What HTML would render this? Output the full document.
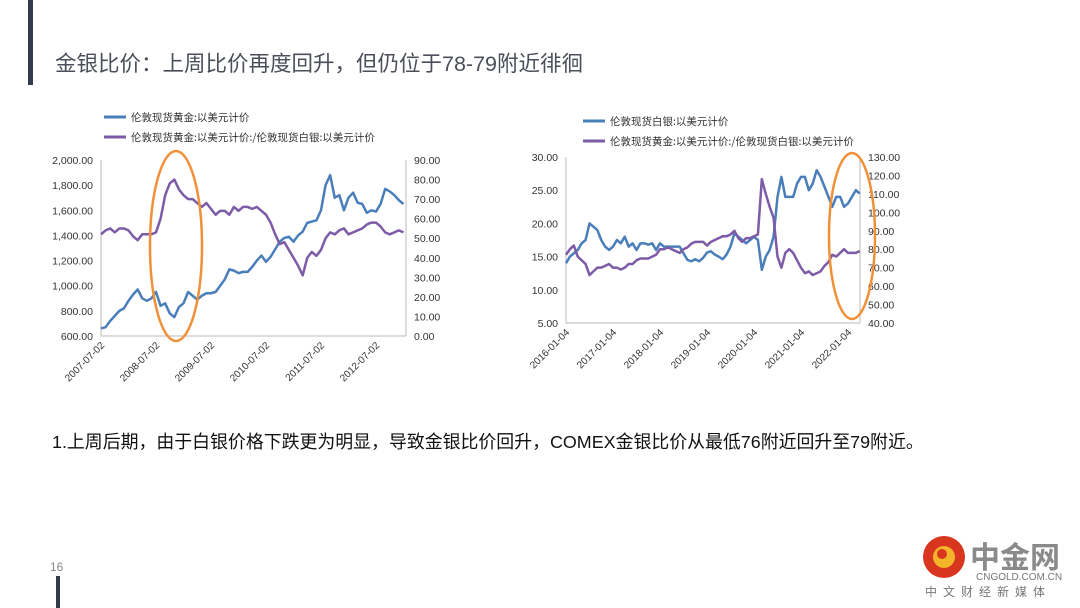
<!DOCTYPE html>
<html><head><meta charset="utf-8">
<style>
body{margin:0;width:1080px;height:608px;background:#fff;overflow:hidden;position:relative;font-family:"Liberation Sans","Noto Sans CJK SC",sans-serif}
.abs{position:absolute}
</style></head><body>
<div class="abs" style="left:28px;top:0;width:5px;height:85px;background:#333a4d"></div>
<div class="abs" style="left:55px;top:47px;font-size:21.5px;color:#4a4f5a;white-space:nowrap">金银比价：上周比价再度回升，但仍位于78-79附近徘徊</div>
<div class="abs" style="left:52px;top:428px;font-size:17.9px;color:#111;white-space:nowrap">1.上周后期，由于白银价格下跌更为明显，导致金银比价回升，COMEX金银比价从最低76附近回升至79附近。</div>
<div class="abs" style="left:50px;top:560px;font-size:12px;color:#888">16</div>
<div class="abs" style="left:56px;top:576px;width:4px;height:32px;background:#333a4d"></div>
<svg class="abs" style="left:0;top:0" width="1080" height="608">
<g id="c1"></g>
<g id="c2"></g>
<g>
<circle cx="944" cy="557" r="21" fill="#d9361f"/>
<circle cx="944" cy="557" r="11" fill="#f5b52a"/>
<circle cx="942" cy="554" r="5" fill="#d9361f"/>
<text x="970" y="568" font-size="30" font-weight="bold" fill="#8a8a8a" font-family="Noto Sans CJK SC,sans-serif">中金网</text>
<text x="976" y="580" font-size="10" fill="#777">CNGOLD.COM.CN</text>
<text x="925" y="596" font-size="12" fill="#777" letter-spacing="6" font-family="Noto Sans CJK SC,sans-serif">中文财经新媒体</text>
</g>
</svg>
<script>
// Chart 1 data (monthly from 2007-07)
const c1Gold=[660,670,720,760,800,820,880,930,970,900,880,900,950,840,860,780,750,830,860,950,920,890,920,940,940,950,1000,1050,1130,1120,1100,1110,1110,1150,1200,1240,1190,1230,1290,1350,1380,1390,1350,1400,1430,1500,1510,1520,1600,1800,1880,1700,1720,1600,1700,1740,1660,1650,1580,1600,1590,1650,1770,1750,1720,1680,1650];
const c1Ratio=[52,54,55,53,55,55,54,51,49,52,52,52,53,60,72,78,80,75,72,70,70,68,66,68,65,62,64,64,62,66,64,66,66,65,66,64,62,58,52,47,48,44,40,36,31,40,43,41,44,50,53,52,54,55,52,53,54,55,57,58,58,56,53,52,53,54,53];
const c1LeftTicks=["600.00","800.00","1,000.00","1,200.00","1,400.00","1,600.00","1,800.00","2,000.00"];
const c1RightTicks=["0.00","10.00","20.00","30.00","40.00","50.00","60.00","70.00","80.00","90.00"];
const c1XLabels=["2007-07-02","2008-07-02","2009-07-02","2010-07-02","2011-07-02","2012-07-02"];
// Chart 2 data (monthly from 2016-01)
const c2Silver=[14,15,15.5,16,17,17.5,20,19.5,19,17.5,16.5,16,16.5,17.5,17,18,16.5,17,16,17,17,16.8,17,16,17,16.5,16.5,16.5,16.5,16.5,15.5,14.5,14.3,14.6,14.3,14.8,15.6,15.8,15.3,15,14.6,15.3,16.5,18.5,18,17.5,17,17.5,18,17.5,13,15,16,18,24,27,24,24,24,26,27,27,25,26,28,27,25.5,24,22.5,24,24,22.5,23,24,25,24.5];
const c2Ratio=[77,80,82,76,74,72,66,68,70,70,71,72,70,70,69,70,72,72,74,75,75,75,76,77,80,80,81,80,79,78,80,81,83,84,84,84,82,84,85,86,87,87,88,90,86,84,86,86,87,88,118,110,103,97,76,70,78,80,78,74,70,67,68,66,67,68,71,73,77,76,78,80,78,78,78,79];
const c2LeftTicks=["5.00","10.00","15.00","20.00","25.00","30.00"];
const c2RightTicks=["40.00","50.00","60.00","70.00","80.00","90.00","100.00","110.00","120.00","130.00"];
const c2XLabels=["2016-01-04","2017-01-04","2018-01-04","2019-01-04","2020-01-04","2021-01-04","2022-01-04"];

const NS="http://www.w3.org/2000/svg";
function mk(p,tag,at){const e=document.createElementNS(NS,tag);for(const k in at)e.setAttribute(k,at[k]);p.appendChild(e);return e;}
function draw(g,cfg){
  const {x0,x1,y0,y1,lmin,lmax,rmin,rmax,left,right,leftTicks,rightTicks,xLabels,monthPx,legend,lx,ly,ell}=cfg;
  const yl=v=>y1-(v-lmin)/(lmax-lmin)*(y1-y0);
  const yr=v=>y1-(v-rmin)/(rmax-rmin)*(y1-y0);
  const xi=i=>x0+i*monthPx;
  const ax=mk(g,'path',{d:`M${x0} ${y0}V${y1}H${x1}M${x1} ${y0}V${y1}`,stroke:'#bbb',fill:'none','stroke-width':1});
  
  
  leftTicks.forEach(t=>{const v=parseFloat(t.replace(/,/g,''));const e=mk(g,'text',{x:x0-8,y:yl(v)+4,'text-anchor':'end','font-size':10.5,fill:'#333'});e.textContent=t;
    
    });
  rightTicks.forEach(t=>{const v=parseFloat(t);const e=mk(g,'text',{x:x1+8,y:yr(v)+4,'font-size':10.5,fill:'#333'});e.textContent=t;
    
    });
  xLabels.forEach((t,i)=>{const x=x0+i*12*monthPx;const e=mk(g,'text',{x:x+4,y:y1+10,'text-anchor':'end','font-size':10,fill:'#333',transform:`rotate(-45 ${x+4} ${y1+10})`});e.textContent=t;
    
    });
  const p1=mk(g,'polyline',{points:left.map((v,i)=>xi(i)+','+yl(v)).join(' '),fill:'none',stroke:'#4a7ebb','stroke-width':2.5,'stroke-linejoin':'round'});
  
  
  const p2=mk(g,'polyline',{points:right.map((v,i)=>xi(i)+','+yr(v)).join(' '),fill:'none',stroke:'#7d5ba6','stroke-width':2.5,'stroke-linejoin':'round'});
  
  
  legend.forEach((t,i)=>{const c=i?'#7d5ba6':'#4a7ebb';const y=ly+i*20;
    const l=mk(g,'line',{x1:lx,x2:lx+22,y1:y,y2:y,stroke:c,'stroke-width':3});
    
    
    const e=mk(g,'text',{x:lx+27,y:y+4,'font-size':10.5,fill:'#333','font-family':'Noto Sans CJK SC,sans-serif'});e.textContent=t;
    
    });
  const el=mk(g,'ellipse',{cx:ell[0],cy:ell[1],rx:ell[2],ry:ell[3],fill:'none',stroke:'#f0913a','stroke-width':2.5});
  
  
}
draw(document.getElementById('c1'),{x0:101,x1:406,y0:160,y1:336,lmin:600,lmax:2000,rmin:0,rmax:90,left:c1Gold,right:c1Ratio,leftTicks:c1LeftTicks,rightTicks:c1RightTicks,xLabels:c1XLabels,monthPx:55/12,
  legend:["伦敦现货黄金:以美元计价","伦敦现货黄金:以美元计价:/伦敦现货白银:以美元计价"],lx:104,ly:117,ell:[176,246,26,95]});
draw(document.getElementById('c2'),{x0:566,x1:860,y0:157,y1:323,lmin:5,lmax:30,rmin:40,rmax:130,left:c2Silver,right:c2Ratio,leftTicks:c2LeftTicks,rightTicks:c2RightTicks,xLabels:c2XLabels,monthPx:47/12,
  legend:["伦敦现货白银:以美元计价","伦敦现货黄金:以美元计价:/伦敦现货白银:以美元计价"],lx:583,ly:121,ell:[852,236,23,83]});
</script>
</body></html>
